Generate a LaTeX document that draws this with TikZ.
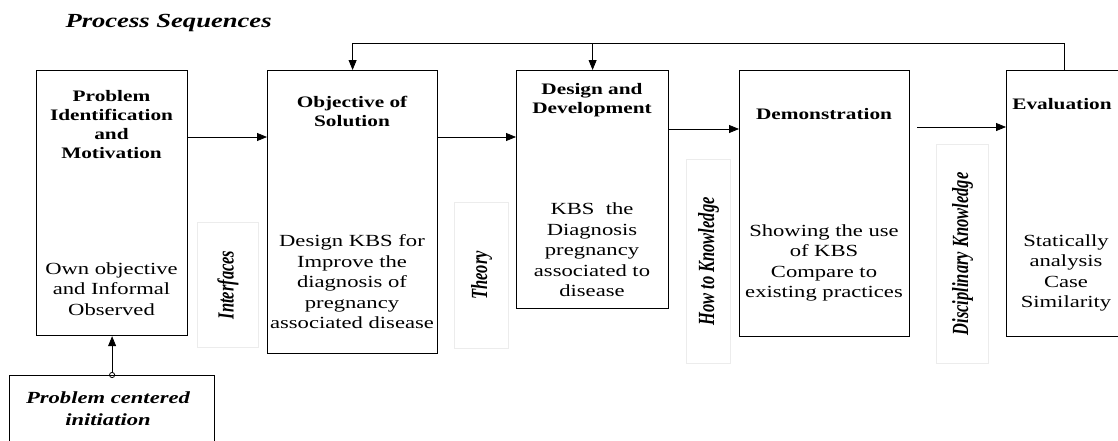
\documentclass[tikz,border=0pt]{standalone}
\usepackage{fontspec}
\setmainfont{Liberation Serif}[FakeStretch=1.33]
\newfontfamily\sidefont{Liberation Serif}
\usetikzlibrary{arrows.meta,positioning}

\tikzset{
  stage/.style={draw, line width=1.2pt, anchor=north west, inner sep=0pt},
  head/.style={font=\bfseries\fontsize{16}{19}\selectfont, align=center},
  body/.style={font=\fontsize{17}{20.5}\selectfont, align=center},
  sidebox/.style={draw=gray!15, line width=1pt, anchor=north west, inner sep=0pt},
  side/.style={font=\sidefont\bfseries\itshape\fontsize{16.5}{19}\selectfont, xscale=1.4, rotate=90},
  link/.style={-{Triangle[length=10pt,width=8pt]}, line width=0.8pt},
}

\begin{document}
\begin{tikzpicture}[x=1pt,y=-1pt]
    \useasboundingbox (0,0) rectangle (1118,440);
    % Titel
    \node[anchor=base west, font=\bfseries\itshape\fontsize{20}{24}\selectfont] (ttl) at (62,27) {Process Sequences};
    % Stufen:
    \node[stage, minimum width=151pt, minimum height=265pt] (pim) at (36,70) {}; % erste Box
    \node[stage, minimum width=170pt, minimum height=283pt] (obj) at (267,70) {}; % zweite Box
    \node[stage, minimum width=152pt, minimum height=238pt] (dd) at (516,70) {}; % dritte Box
    \node[stage, minimum width=170pt, minimum height=266pt] (dm) at (739,70) {}; % vierte Box
    \node[stage, minimum width=130pt, minimum height=266pt] (eva) at (1006,70) {}; % fuenfte Box
    \node[stage, minimum width=205pt, minimum height=90pt] (pci) at (9,375) {}; % unten
    % Texte:
    \node[head] (pim-h) at (111.5,125) {Problem\\Identification\\and\\Motivation};
    \node[body] (pim-b) at (111.5,289) {Own objective\\and Informal\\Observed};
    \node[head] (obj-h) at (352,111) {Objective of\\Solution};
    \node[body] (obj-b) at (352,282) {Design KBS for\\Improve the\\diagnosis of\\pregnancy\\associated disease};
    \node[head] (dd-h) at (592,100) {Design and\\Development};
    \node[body] (dd-b) at (592,250) {KBS\ \ the\\Diagnosis\\pregnancy\\associated to\\disease};
    \node[head] (dm-h) at (824,114) {Demonstration};
    \node[body] (dm-b) at (824,263) {Showing the use\\of KBS\\Compare to\\existing practices};
    \node[head] (eva-h) at (1062,104) {Evaluation};
    \node[body] (eva-b) at (1066,273) {Statically\\analysis\\Case\\Similarity};
    \node[font=\bfseries\itshape\fontsize{17}{22}\selectfont, align=center] (pci-t) at (108,409) {Problem centered\\initiation};
    % graue Kaesten:
    \node[sidebox, minimum width=61pt, minimum height=125pt] (ifc) at (197,222) {};
    \node[side] (ifc-t) at (ifc) {Interfaces};
    \node[sidebox, minimum width=54pt, minimum height=146pt] (thy) at (454,202) {};
    \node[side] (thy-t) at (thy) {Theory};
    \node[sidebox, minimum width=44pt, minimum height=204pt] (htk) at (686,159) {};
    \node[side] (htk-t) at (htk) {How to Knowledge};
    \node[sidebox, minimum width=52pt, minimum height=219pt] (dk) at (936,144) {};
    \node[side] (dk-t) at (dk) {Disciplinary Knowledge};
    % Pfeile:
    \coordinate (a1) at (0,137);
    \coordinate (a2) at (0,137);
    \coordinate (a3) at (0,129);
    \coordinate (a4) at (917,127);
    \coordinate (fb) at (1064,43);
    \draw[link] (pim.east |- a1) -- (obj.west |- a1);
    \draw[link] (obj.east |- a2) -- (dd.west |- a2);
    \draw[link] (dd.east |- a3) -- (dm.west |- a3);
    \draw[link] (a4) -- (eva.west |- a4);
    \draw[line width=0.8pt] (eva.north -| fb) -- (fb); % Rueckfuehrung
    \draw[link] (fb) -| (obj.north);
    \draw[link] (fb -| dd.north) -- (dd.north);
    \draw[{Circle[open,length=6pt,width=6pt]}-{Triangle[length=10pt,width=8pt]}, line width=0.8pt, shorten <=-3pt] (pci.north) -- (pim.south);
\end{tikzpicture}
\end{document}
